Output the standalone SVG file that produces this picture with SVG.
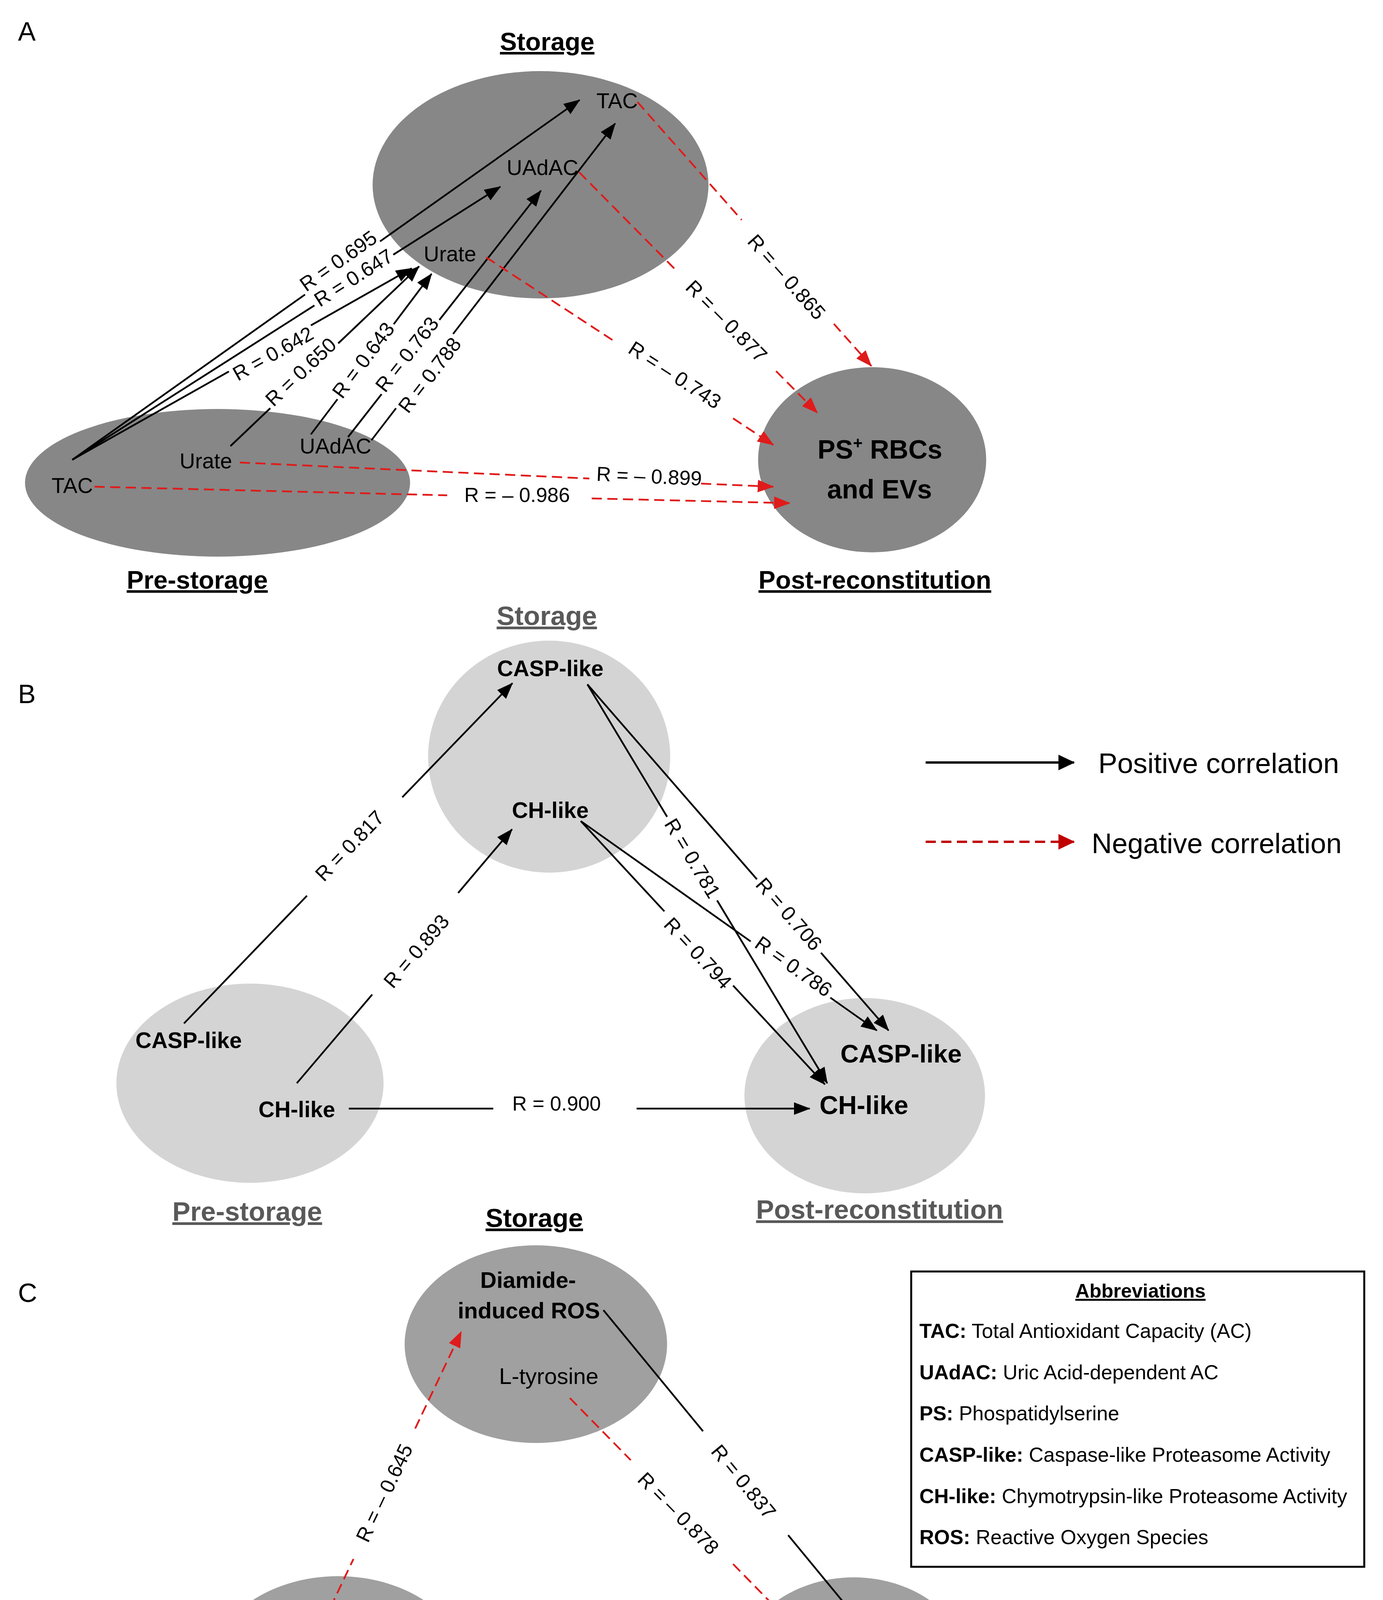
<svg xmlns="http://www.w3.org/2000/svg" width="3541" height="4724" viewBox="0 0 3541 4724">
<defs>
<style>
text{font-family:"Liberation Sans",Arial,sans-serif;fill:#000}
.panel{font-size:68px}
.ttl{font-size:65px;font-weight:bold;text-anchor:middle;text-decoration:underline}
.ttlg{font-size:69px;font-weight:bold;text-anchor:middle;text-decoration:underline;fill:#595959}
.na{font-size:55px;text-anchor:middle}
.nb{font-size:57px;font-weight:bold;text-anchor:middle}
.nc{font-size:58px;text-anchor:middle}
.r{font-size:52px;text-anchor:middle}
.pos{stroke:#000;stroke-width:4.5;fill:none;marker-end:url(#ab)}
.neg{stroke:#E01B1B;stroke-width:4.5;stroke-dasharray:26 14;fill:none;marker-end:url(#ar)}
.ga{fill:#878787}
.gb{fill:#D4D4D4}
.gc{fill:#A0A0A0}
.ab{font-size:52px}
</style>
<marker id="ab" markerUnits="userSpaceOnUse" markerWidth="42" markerHeight="32" viewBox="0 0 42 32" refX="40" refY="16" orient="auto"><path d="M0,0 L42,16 L0,32 z" fill="#000"/></marker>
<marker id="ar" markerUnits="userSpaceOnUse" markerWidth="42" markerHeight="32" viewBox="0 0 42 32" refX="40" refY="16" orient="auto"><path d="M0,0 L42,16 L0,32 z" fill="#E01B1B"/></marker>
<marker id="arl" markerUnits="userSpaceOnUse" markerWidth="42" markerHeight="40" viewBox="0 0 42 40" refX="40" refY="20" orient="auto"><path d="M0,0 L42,20 L0,40 z" fill="#C00000"/></marker>
<marker id="abl" markerUnits="userSpaceOnUse" markerWidth="42" markerHeight="40" viewBox="0 0 42 40" refX="40" refY="20" orient="auto"><path d="M0,0 L42,20 L0,40 z" fill="#000"/></marker>
</defs>
<rect width="3541" height="4724" fill="#fff"/>

<!-- Panel letters and titles -->
<text class="panel" x="46" y="104">A</text>
<text class="panel" x="46" y="1800">B</text>
<text class="panel" x="46" y="3333">C</text>

<text class="ttl" x="1401" y="129">Storage</text>
<text class="ttl" x="505" y="1507">Pre-storage</text>
<text class="ttl" x="2240" y="1507">Post-reconstitution</text>
<text class="ttlg" x="1400" y="1600">Storage</text>
<text class="ttlg" x="633" y="3125">Pre-storage</text>
<text class="ttlg" x="2252" y="3120">Post-reconstitution</text>
<text class="ttl" x="1368" y="3141" style="font-size:67px">Storage</text>
<text class="ttl" x="849" y="4654" style="font-size:68px">Pre-storage</text>
<text class="ttl" x="2178" y="4654" style="font-size:69px">Post-reconstitution</text>

<!-- Panel A nodes -->
<g id="a-storage">
<ellipse class="ga" cx="1384" cy="473" rx="430" ry="291"/>
<text class="na" x="1580" y="277">TAC</text>
<text class="na" x="1389" y="448">UAdAC</text>
<text class="na" x="1152" y="669">Urate</text>
</g>
<g id="a-prestorage">
<ellipse class="ga" cx="557" cy="1236" rx="493" ry="189"/>
<text class="na" x="185" y="1262">TAC</text>
<text class="na" x="527" y="1199">Urate</text>
<text class="na" x="859" y="1161">UAdAC</text>
</g>
<g id="a-post">
<ellipse class="ga" cx="2233" cy="1177" rx="292" ry="237"/>
<text x="2253" y="1174" style="font-size:68px;font-weight:bold;text-anchor:middle">PS<tspan style="font-size:42px" dy="-26">+</tspan><tspan dy="26"> RBCs</tspan></text>
<text x="2252" y="1276" style="font-size:68px;font-weight:bold;text-anchor:middle">and EVs</text>
</g>

<!-- Panel B nodes -->
<g id="b-storage">
<ellipse class="gb" cx="1406" cy="1937" rx="310" ry="297"/>
<text class="nb" x="1409" y="1731">CASP-like</text>
<text class="nb" x="1409" y="2094">CH-like</text>
</g>
<g id="b-prestorage">
<ellipse class="gb" cx="640" cy="2773" rx="342" ry="255"/>
<text class="nb" x="483" y="2683">CASP-like</text>
<text class="nb" x="760" y="2860">CH-like</text>
</g>
<g id="b-post">
<ellipse class="gb" cx="2214" cy="2805" rx="308" ry="250"/>
<text class="nb" x="2307" y="2720" style="font-size:65px">CASP-like</text>
<text class="nb" x="2212" y="2852" style="font-size:66px">CH-like</text>
</g>

<!-- Panel C nodes -->
<g id="c-storage">
<ellipse class="gc" cx="1372" cy="3441" rx="336" ry="253"/>
<text class="nb" x="1352" y="3297" style="font-size:58px">Diamide-</text>
<text class="nb" x="1354" y="3375" style="font-size:58px">induced ROS</text>
<text class="nc" x="1405" y="3543">L-tyrosine</text>
</g>
<g id="c-prestorage">
<ellipse class="gc" cx="866" cy="4287" rx="335" ry="252"/>
<text class="nc" x="841" y="4200">L-tyrosine</text>
<text class="nb" x="850" y="4310" style="font-size:58px">Diamide-</text>
<text class="nb" x="850" y="4390" style="font-size:58px">induced ROS</text>
</g>
<g id="c-post">
<ellipse class="gc" cx="2186" cy="4286" rx="301" ry="248"/>
<text class="nb" x="2194" y="4260" style="font-size:76px">Diamide-</text>
<text class="nb" x="2196" y="4369" style="font-size:76px">induced ROS</text>
</g>

<!-- Connectors -->
<g id="connectors">
<path class="pos" d="M185,1177 L781,754 M973,618 L1484,256"/>
<text class="r" transform="translate(866,668) rotate(-35.3)" y="18">R = 0.695</text>
<path class="pos" d="M185,1177 L805,782 M1007,652 L1281,478"/>
<text class="r" transform="translate(905,711) rotate(-32.5)" y="18">R = 0.647</text>
<path class="pos" d="M185,1177 L586,951 M796,833 L1054,687"/>
<text class="r" transform="translate(699,905) rotate(-29.4)" y="18">R = 0.642</text>
<path class="pos" d="M590,1142 L692,1045 M866,879 L1073,682"/>
<text class="r" transform="translate(770,952) rotate(-43.6)" y="18">R = 0.650</text>
<path class="pos" d="M796,1112 L864,1022 M1008,830 L1105,701"/>
<text class="r" transform="translate(930,922) rotate(-53.1)" y="18">R = 0.643</text>
<path class="pos" d="M891,1119 L977,1009 M1125,819 L1385,488"/>
<text class="r" transform="translate(1042,907) rotate(-51.9)" y="18">R = 0.763</text>
<path class="pos" d="M951,1127 L1014,1045 M1160,855 L1575,316"/>
<text class="r" transform="translate(1100,960) rotate(-52.4)" y="18">R = 0.788</text>
<path class="neg" d="M1632,261 L1899,563 M2135,829 L2231,937"/>
<text class="r" transform="translate(2014,709) rotate(48.5)" y="18">R = – 0.865</text>
<path class="neg" d="M1483,441 L1733,694 M1987,950 L2093,1057"/>
<text class="r" transform="translate(1860,822) rotate(45.3)" y="18">R = – 0.877</text>
<path class="neg" d="M1245,659 L1575,875 M1877,1071 L1980,1139"/>
<text class="r" transform="translate(1728,960) rotate(33.1)" y="18">R = – 0.743</text>
<path class="neg" d="M614,1184 L1509,1225 M1795,1238 L1980,1246"/>
<text class="r" transform="translate(1662,1219) rotate(2.6)" y="18">R = – 0.899</text>
<path class="neg" d="M242,1246 L1145,1268 M1515,1276 L2022,1288"/>
<text class="r" x="1324" y="1285">R = – 0.986</text>

<path class="pos" d="M471,2620 L786,2293 M1030,2041 L1312,1749"/>
<text class="r" transform="translate(895,2165) rotate(-46)" y="18">R = 0.817</text>
<path class="pos" d="M760,2773 L953,2546 M1173,2286 L1311,2123"/>
<text class="r" transform="translate(1066,2435) rotate(-49.7)" y="18">R = 0.893</text>
<path class="pos" d="M893,2838 L1263,2838 M1630,2838 L2073,2838"/>
<text class="r" x="1425" y="2843">R = 0.900</text>
<path class="pos" d="M1504,1752 L1938,2251 M2102,2439 L2275,2638"/>
<text class="r" transform="translate(2020,2340) rotate(49)" y="18">R = 0.706</text>
<path class="pos" d="M1504,1752 L1708,2091 M1836,2305 L2118,2773"/>
<text class="r" transform="translate(1773,2197) rotate(59)" y="18">R = 0.781</text>
<path class="pos" d="M1487,2102 L1922,2410 M2126,2554 L2245,2638"/>
<text class="r" transform="translate(2032,2474) rotate(35.3)" y="18">R = 0.786</text>
<path class="pos" d="M1487,2102 L1701,2333 M1877,2523 L2112,2776"/>
<text class="r" transform="translate(1787,2440) rotate(47.2)" y="18">R = 0.794</text>

<path class="neg" d="M846,4115 L905,3991 M1063,3657 L1181,3409"/>
<text class="r" transform="translate(984,3822) rotate(-64.6)" y="18">R = – 0.645</text>
<path class="pos" d="M1545,3354 L1800,3664 M2018,3930 L2205,4157"/>
<text class="r" transform="translate(1904,3793) rotate(50.6)" y="18">R = 0.837</text>
<path class="neg" d="M1459,3579 L1615,3738 M1877,4004 L2014,4144"/>
<text class="r" transform="translate(1737,3874) rotate(45.5)" y="18">R = – 0.878</text>
<path class="neg" d="M1011,4175 L1335,4177 M1700,4180 L1973,4183"/>
<text class="r" x="1514" y="4219">R = – 0.886</text>
<path class="pos" d="M1011,4312 L1307,4312 M1650,4314 L1937,4314"/>
<text class="r" x="1465" y="4376">R = 0.943</text>
</g>

<g id="legend">
<path d="M2370,1952 L2750,1952" stroke="#000" stroke-width="6" fill="none" marker-end="url(#abl)"/>
<text x="2812" y="1979" style="font-size:73px">Positive correlation</text>
<path d="M2370,2155 L2750,2155" stroke="#C00000" stroke-width="6" stroke-dasharray="26 14" fill="none" marker-end="url(#arl)"/>
<text x="2795" y="2184" style="font-size:72px">Negative correlation</text>
</g>

<g id="abbreviations">
<rect x="2333" y="3255" width="1160" height="756" fill="#fff" stroke="#000" stroke-width="5"/>
<text x="2920" y="3322" style="font-size:50px;font-weight:bold;text-anchor:middle;text-decoration:underline">Abbreviations</text>
<text class="ab" x="2354" y="3425"><tspan font-weight="bold">TAC:</tspan> Total Antioxidant Capacity (AC)</text>
<text class="ab" x="2354" y="3531"><tspan font-weight="bold">UAdAC:</tspan> Uric Acid-dependent AC</text>
<text class="ab" x="2354" y="3636"><tspan font-weight="bold">PS:</tspan> Phospatidylserine</text>
<text class="ab" x="2354" y="3742"><tspan font-weight="bold">CASP-like:</tspan> Caspase-like Proteasome Activity</text>
<text class="ab" x="2354" y="3848"><tspan font-weight="bold">CH-like:</tspan> Chymotrypsin-like Proteasome Activity</text>
<text class="ab" x="2354" y="3953"><tspan font-weight="bold">ROS:</tspan> Reactive Oxygen Species</text>
</g>
</svg>
